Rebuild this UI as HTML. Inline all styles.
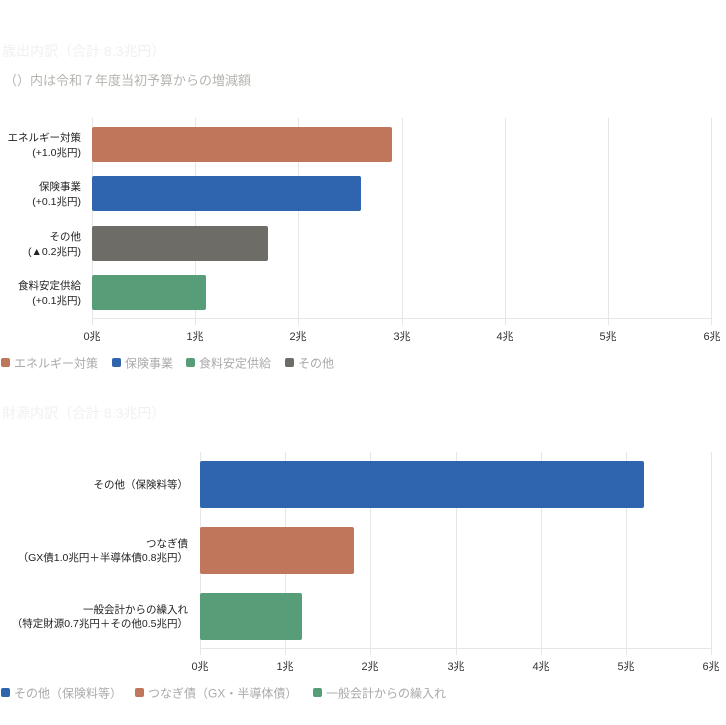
<!DOCTYPE html>
<html><head><meta charset="utf-8"><style>
html,body{margin:0;padding:0;background:#fff}
svg text{font-family:"Liberation Sans","Noto Sans CJK JP",sans-serif}
</style></head><body>
<svg width="726" height="720" xmlns="http://www.w3.org/2000/svg">
<text x="2" y="56" font-size="14" fill="#f0f0ee">歳出内訳（合計 8.3兆円）</text>
<text x="4" y="85" font-size="13" fill="#b5b5b0">（）内は令和７年度当初予算からの増減額</text>
<g stroke="#e6e6e6" stroke-width="1">
<line x1="92.5" y1="118" x2="92.5" y2="325"/><line x1="195.5" y1="118" x2="195.5" y2="325"/><line x1="298.5" y1="118" x2="298.5" y2="325"/><line x1="402.5" y1="118" x2="402.5" y2="325"/><line x1="505.5" y1="118" x2="505.5" y2="325"/><line x1="608.5" y1="118" x2="608.5" y2="325"/><line x1="711.5" y1="118" x2="711.5" y2="325"/>
<line x1="92" y1="318.5" x2="712" y2="318.5"/>
</g>
<rect x="92" y="127" width="300" height="35" rx="2" fill="#c0765a"/>
<rect x="92" y="176" width="269" height="35" rx="2" fill="#2f65ae"/>
<rect x="92" y="226" width="176" height="35" rx="2" fill="#6e6c67"/>
<rect x="92" y="275" width="114" height="35" rx="2" fill="#579e78"/>
<g font-size="10.5" fill="#222" text-anchor="end">
<text x="81" y="141">エネルギー対策</text><text x="81" y="156">(+1.0兆円)</text>
<text x="81" y="190">保険事業</text><text x="81" y="205">(+0.1兆円)</text>
<text x="81" y="240">その他</text><text x="81" y="255">(▲0.2兆円)</text>
<text x="81" y="289">食料安定供給</text><text x="81" y="304">(+0.1兆円)</text>
</g>
<g font-size="11" fill="#333" text-anchor="middle">
<text x="92" y="340">0兆</text><text x="195" y="340">1兆</text><text x="298" y="340">2兆</text><text x="402" y="340">3兆</text><text x="505" y="340">4兆</text><text x="608" y="340">5兆</text><text x="712" y="340">6兆</text>
</g>
<g font-size="12" fill="#aaa">
<rect x="1" y="358" width="9" height="9" rx="2" fill="#c0765a"/><text x="14" y="367.5">エネルギー対策</text>
<rect x="112" y="358" width="9" height="9" rx="2" fill="#2f65ae"/><text x="125" y="367.5">保険事業</text>
<rect x="186" y="358" width="9" height="9" rx="2" fill="#579e78"/><text x="199" y="367.5">食料安定供給</text>
<rect x="285" y="358" width="9" height="9" rx="2" fill="#6e6c67"/><text x="298" y="367.5">その他</text>
</g>
<text x="2" y="418" font-size="14" fill="#f0f0ee">財源内訳（合計 8.3兆円）</text>
<g stroke="#e6e6e6" stroke-width="1">
<line x1="200.5" y1="452" x2="200.5" y2="655"/><line x1="285.5" y1="452" x2="285.5" y2="655"/><line x1="370.5" y1="452" x2="370.5" y2="655"/><line x1="456.5" y1="452" x2="456.5" y2="655"/><line x1="541.5" y1="452" x2="541.5" y2="655"/><line x1="626.5" y1="452" x2="626.5" y2="655"/><line x1="711.5" y1="452" x2="711.5" y2="655"/>
<line x1="200" y1="648.5" x2="712" y2="648.5"/>
</g>
<rect x="200" y="461" width="444" height="47" rx="2" fill="#2f65ae"/>
<rect x="200" y="527" width="154" height="47" rx="2" fill="#c0765a"/>
<rect x="200" y="593" width="102" height="47" rx="2" fill="#579e78"/>
<g font-size="10.5" fill="#222" text-anchor="end">
<text x="188" y="488">その他（保険料等）</text>
<text x="188" y="547">つなぎ債</text><text x="188" y="561">（GX債1.0兆円＋半導体債0.8兆円）</text>
<text x="188" y="613">一般会計からの繰入れ</text><text x="188" y="627">（特定財源0.7兆円＋その他0.5兆円）</text>
</g>
<g font-size="11" fill="#333" text-anchor="middle">
<text x="200" y="670">0兆</text><text x="285" y="670">1兆</text><text x="370" y="670">2兆</text><text x="456" y="670">3兆</text><text x="541" y="670">4兆</text><text x="626" y="670">5兆</text><text x="711" y="670">6兆</text>
</g>
<g font-size="12" fill="#aaa">
<rect x="1" y="688" width="9" height="9" rx="2" fill="#2f65ae"/><text x="14" y="697.5">その他（保険料等）</text>
<rect x="135" y="688" width="9" height="9" rx="2" fill="#c0765a"/><text x="148" y="697.5">つなぎ債（GX・半導体債）</text>
<rect x="313" y="688" width="9" height="9" rx="2" fill="#579e78"/><text x="326" y="697.5">一般会計からの繰入れ</text>
</g>
</svg>
</body></html>
